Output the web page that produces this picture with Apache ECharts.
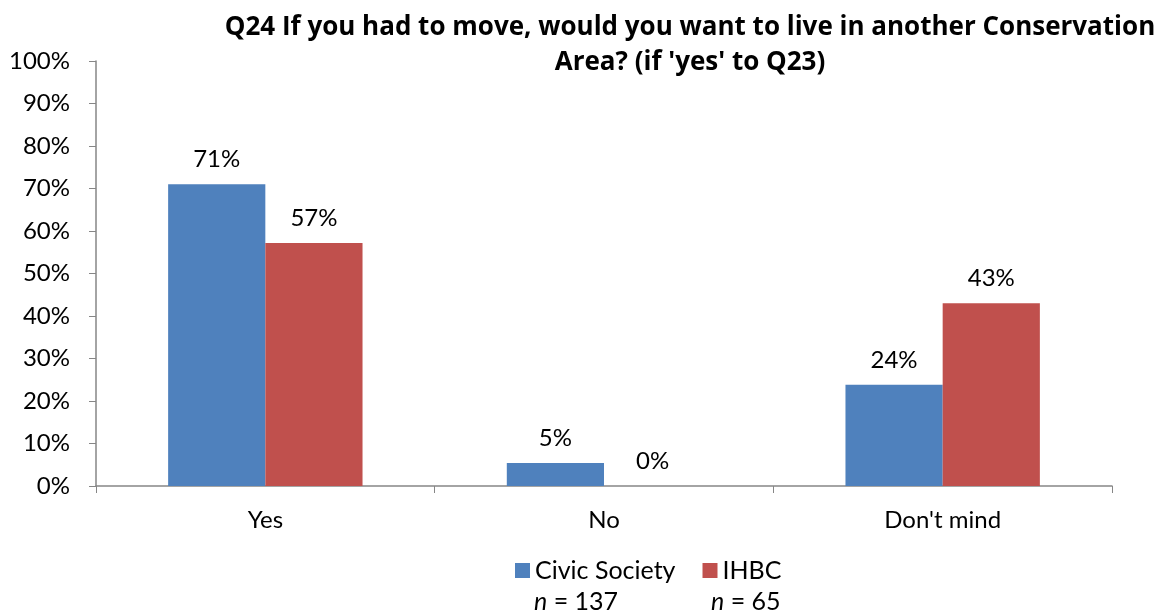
<!DOCTYPE html>
<html><head><meta charset="utf-8">
<script src="https://cdn.jsdelivr.net/npm/echarts@6/dist/echarts.min.js"></script>
<style>html,body{margin:0;padding:0;background:#fff}#c{width:1157px;height:615px}</style>
</head><body><div id="c"></div>
<script>
const categories = ['Yes', 'No', "Don't mind"];
const civicSociety = [71, 5.4, 23.8];
const ihbc = [57.2, 0, 43];
const yTicks = [0, 10, 20, 30, 40, 50, 60, 70, 80, 90, 100];
const seriesNames = ['Civic Society', 'IHBC'];
const sampleSizes = ['137', '65'];
const titleText = "Q24 If you had to move, would you want to live in another Conservation\nArea? (if 'yes' to Q23)";

const FONT = 'Lato';
const chart = echarts.init(document.getElementById('c'));
const labelCfg = {
  show: true, position: 'top', distance: 13,
  fontFamily: FONT, fontSize: 24, color: '#000',
  formatter: p => Math.round(p.value) + '%'
};
const nRich = {
  i: { fontStyle: 'italic', fontFamily: FONT, fontSize: 25, fill: '#000' },
  r: { fontFamily: FONT, fontSize: 25, fill: '#000' }
};
chart.setOption({
  animation: false,
  textStyle: { fontFamily: FONT },
  title: {
    text: titleText, left: 685, top: 5, textAlign: 'center',
    textStyle: { fontFamily: 'Open Sans', fontWeight: 'bold', fontSize: 26, lineHeight: 35, color: '#000' }
  },
  grid: { left: 96, right: 45, top: 61, bottom: 129, containLabel: false },
  legend: {
    top: 553, left: 510, itemWidth: 15, itemHeight: 15, itemGap: 27,
    icon: 'rect',
    textStyle: { fontFamily: FONT, fontSize: 25, color: '#000' },
    data: seriesNames
  },
  xAxis: {
    type: 'category', data: categories,
    axisLine: { lineStyle: { color: '#868686', width: 1.5 } },
    axisTick: { show: true, length: 7, lineStyle: { color: '#868686' } },
    axisLabel: { fontFamily: FONT, fontSize: 24, color: '#000', margin: 22 }
  },
  yAxis: {
    type: 'value', min: yTicks[0], max: yTicks[yTicks.length - 1], interval: 10,
    axisLine: { show: true, lineStyle: { color: '#868686', width: 1.5 } },
    axisTick: { show: true, length: 7, lineStyle: { color: '#868686' } },
    splitLine: { show: false },
    axisLabel: { fontFamily: FONT, fontSize: 24, color: '#000', margin: 26, formatter: v => v + '%' }
  },
  series: [
    { name: seriesNames[0], type: 'bar', data: civicSociety, barGap: '0%', barCategoryGap: '42.6%',
      itemStyle: { color: '#4F81BD' }, label: labelCfg },
    { name: seriesNames[1], type: 'bar', data: ihbc,
      itemStyle: { color: '#C0504D' }, label: labelCfg }
  ],
  graphic: [
    { type: 'text', left: 534, top: 589, style: { rich: nRich, text: '{i|n}{r| = ' + sampleSizes[0] + '}' } },
    { type: 'text', left: 711, top: 589, style: { rich: nRich, text: '{i|n}{r| = ' + sampleSizes[1] + '}' } }
  ]
});
</script></body></html>
